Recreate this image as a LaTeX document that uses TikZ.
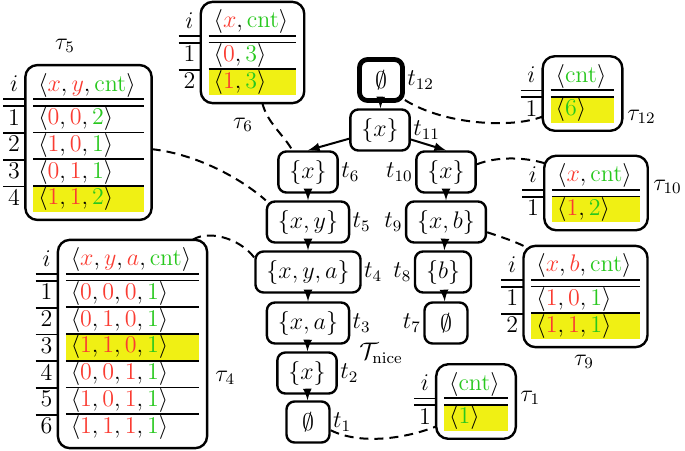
\documentclass[tikz,border=0pt,12pt]{standalone}
\usepackage{colortbl}
\definecolor{valred}{RGB}{250,60,50}
\definecolor{valgreen}{RGB}{40,200,30}
\definecolor{hlyellow}{RGB}{240,240,20}
\def\redv#1{\textcolor{valred}{#1}}
\def\grnv#1{\textcolor{valgreen}{#1}}
\renewcommand{\arraystretch}{0.8}
\setlength{\arrayrulewidth}{0.9pt}
\setlength{\doublerulesep}{2.5pt}
\setlength{\tabcolsep}{2.5pt}
\newcolumntype{T}{>{$}l<{$\hspace{1.5pt}}}
\newcolumntype{I}{>{$\vphantom{\langle}}c<{$}}
\tikzset{
	tnode/.style={draw, line width=1.2pt, rounded corners=4pt, minimum height=20.5pt, minimum width=21.5pt, inner xsep=5.5pt},
	tabbox/.style={draw, line width=1.2pt, rounded corners=6pt, inner sep=4pt, outer sep=0pt},
	icol/.style={inner sep=0pt, anchor=north east},
	link/.style={line width=1pt, dash pattern=on 4.5pt off 3pt},
	every label/.style={inner sep=1pt}
}

\begin{document}
\begin{tikzpicture}[x=0.5pt, y=-0.5pt]
		\useasboundingbox (0,0) rectangle (685,450);
		%%%%% TREE %%%%%
		\node[tnode, line width=2.4pt, label={right:$t_{12}$}] (t12) at (381,80) {$\emptyset$};
		\node[tnode, label={right:$t_{11}$}] (t11) at (380,130) {$\{x\}$};
		\node[tnode, label={right:$t_{6}$}] (t6) at (308,172) {$\{x\}$};
		\node[tnode, label={right:$t_{5}$}] (t5) at (308,222) {$\{x,y\}$};
		\node[tnode, label={right:$t_{4}$}] (t4) at (308,272) {$\{x,y,a\}$};
		\node[tnode, label={right:$t_{3}$}] (t3) at (308,323) {$\{x,a\}$};
		\node[tnode, label={right:$t_{2}$}] (t2) at (307,373) {$\{x\}$};
		\node[tnode, label={right:$t_{1}$}] (t1) at (308,422) {$\emptyset$};
		\node[tnode, label={left:$t_{10}$}] (t10) at (446,172) {$\{x\}$};
		\node[tnode, label={left:$t_{9}$}] (t9) at (446,222) {$\{x,b\}$};
		\node[tnode, label={left:$t_{8}$}] (t8) at (443,272) {$\{b\}$};
		\node[tnode, label={left:$t_{7}$}] (t7) at (446,323) {$\emptyset$};
		\node (tnice) at (381,353) {$\mathcal{T}_{\mathrm{nice}}$};
		
		\draw[-latex, line width=1pt] (t12) -- (t11);
		\draw[-latex, line width=1pt] (t11) -- (t6.north);
		\draw[-latex, line width=1pt] (t11) -- (t10.north);
		\draw[-latex, line width=1pt] (t6) -- (t5);
		\draw[-latex, line width=1pt] (t5) -- (t4);
		\draw[-latex, line width=1pt] (t4) -- (t3);
		\draw[-latex, line width=1pt] (t3) -- (t2);
		\draw[-latex, line width=1pt] (t2) -- (t1);
		\draw[-latex, line width=1pt] (t10) -- (t9);
		\draw[-latex, line width=1pt] (t9) -- (t8);
		\draw[-latex, line width=1pt] (t8) -- (t7);
		
		%%%%% TABLES %%%%%
		\node[tabbox] (tau5) at (88.5,142.5) {\begin{tabular}{T}
			\langle\redv{x},\redv{y},\grnv{\mathrm{cnt}}\rangle\\ \hline\hline
			\langle\redv{0},\redv{0},\grnv{2}\rangle\\ \hline
			\langle\redv{1},\redv{0},\grnv{1}\rangle\\ \hline
			\langle\redv{0},\redv{1},\grnv{1}\rangle\\ \hline
			\rowcolor{hlyellow}\langle\redv{1},\redv{1},\grnv{2}\rangle
		\end{tabular}};
		\node[icol] (i5) at ([yshift=-4pt]tau5.north west) {\begin{tabular}{I}
			i\\ \hline\hline 1\\ \hline 2\\ \hline 3\\ \hline 4
		\end{tabular}};
		\node (l5) at (65,46) {$\tau_5$};
		
		\node[tabbox] (tau6) at (252.5,52.5) {\begin{tabular}{T}
			\langle\redv{x},\grnv{\mathrm{cnt}}\rangle\\ \hline\hline
			\langle\redv{0},\grnv{3}\rangle\\ \hline
			\rowcolor{hlyellow}\langle\redv{1},\grnv{3}\rangle
		\end{tabular}};
		\node[icol] (i6) at ([yshift=-4pt]tau6.north west) {\begin{tabular}{I}
			i\\ \hline\hline 1\\ \hline 2
		\end{tabular}};
		\node (l6) at (243,125) {$\tau_6$};
		
		\node[tabbox] (tau12) at (582.5,93.5) {\begin{tabular}{T}
			\langle\grnv{\mathrm{cnt}}\rangle\\ \hline\hline
			\rowcolor{hlyellow}\langle\grnv{6}\rangle
		\end{tabular}};
		\node[icol] (i12) at ([yshift=-4pt]tau12.north west) {\begin{tabular}{I}
			i\\ \hline\hline 1
		\end{tabular}};
		\node[anchor=west, inner sep=0pt] (l12) at (627,117) {$\tau_{12}$};
		
		\node[tabbox] (tau10) at (596,193) {\begin{tabular}{T}
			\langle\redv{x},\grnv{\mathrm{cnt}}\rangle\\ \hline\hline
			\rowcolor{hlyellow}\langle\redv{1},\grnv{2}\rangle
		\end{tabular}};
		\node[icol] (i10) at ([yshift=-4pt]tau10.north west) {\begin{tabular}{I}
			i\\ \hline\hline 1
		\end{tabular}};
		\node[anchor=west, inner sep=0pt] (l10) at (653,187) {$\tau_{10}$};
		
		\node[tabbox] (tau9) at (585.5,296.5) {\begin{tabular}{T}
			\langle\redv{x},\redv{b},\grnv{\mathrm{cnt}}\rangle\\ \hline\hline
			\langle\redv{1},\redv{0},\grnv{1}\rangle\\ \hline
			\rowcolor{hlyellow}\langle\redv{1},\redv{1},\grnv{1}\rangle
		\end{tabular}};
		\node[icol] (i9) at ([yshift=-4pt]tau9.north west) {\begin{tabular}{I}
			i\\ \hline\hline 1\\ \hline 2
		\end{tabular}};
		\node (l9) at (584,362) {$\tau_9$};
		
		\node[tabbox] (tau4) at (132.5,344) {\begin{tabular}{T}
			\langle\redv{x},\redv{y},\redv{a},\grnv{\mathrm{cnt}}\rangle\\ \hline\hline
			\langle\redv{0},\redv{0},\redv{0},\grnv{1}\rangle\\ \hline
			\langle\redv{0},\redv{1},\redv{0},\grnv{1}\rangle\\ \hline
			\rowcolor{hlyellow}\langle\redv{1},\redv{1},\redv{0},\grnv{1}\rangle\\ \hline
			\langle\redv{0},\redv{0},\redv{1},\grnv{1}\rangle\\ \hline
			\langle\redv{1},\redv{0},\redv{1},\grnv{1}\rangle\\ \hline
			\langle\redv{1},\redv{1},\redv{1},\grnv{1}\rangle
		\end{tabular}};
		\node[icol] (i4) at ([yshift=-4pt]tau4.north west) {\begin{tabular}{I}
			i\\ \hline\hline 1\\ \hline 2\\ \hline 3\\ \hline 4\\ \hline 5\\ \hline 6
		\end{tabular}};
		\node[anchor=west, inner sep=0pt] (l4) at (215,378) {$\tau_4$};
		
		\node[tabbox] (tau1) at (476,401.5) {\begin{tabular}{T}
			\langle\grnv{\mathrm{cnt}}\rangle\\ \hline\hline
			\rowcolor{hlyellow}\langle\grnv{1}\rangle
		\end{tabular}};
		\node[icol] (i1) at ([yshift=-4pt]tau1.north west) {\begin{tabular}{I}
			i\\ \hline\hline 1
		\end{tabular}};
		\node[anchor=west, inner sep=0pt] (l1) at (520,398) {$\tau_1$};
		
		%%%%% LINKS %%%%%
		\draw[link] (tau5.-6) .. controls +(45,5) and +(-25,-22) .. (t5.north west);
		\draw[link] (tau6.-79) .. controls +(5,20) and +(-8,-15) .. (t6.126);
		\draw[link] (t12.-40) .. controls +(40,25) and +(-30,12) .. (tau12.210);
		\draw[link] (t10.14) .. controls +(20,-8) and +(-20,-6) .. (tau10.150);
		\draw[link] (t9.-14) .. controls +(12,4) and +(-10,-5) .. (tau9.north west);
		\draw[link] (tau4.60) .. controls +(15,-10) and +(-15,-20) .. (t4.165);
		\draw[link] (t1.-20) .. controls +(30,15) and +(-30,12) .. (tau1.212);
	\end{tikzpicture}
\end{document}
